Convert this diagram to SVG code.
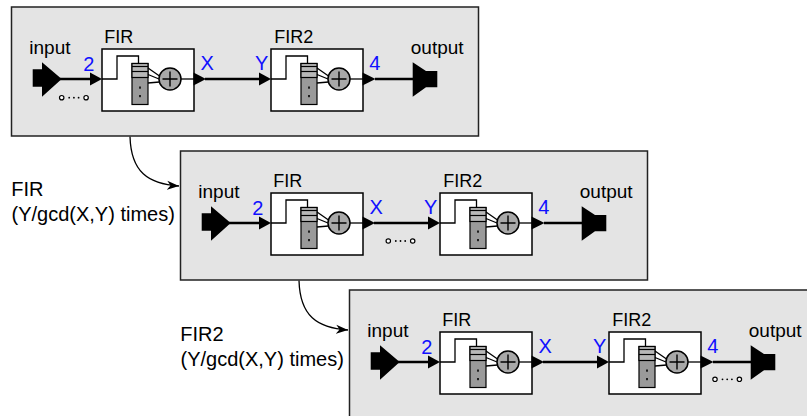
<svg xmlns="http://www.w3.org/2000/svg" xmlns:xlink="http://www.w3.org/1999/xlink" width="807" height="416" viewBox="0 0 807 416">
<style>
text{font-family:"Liberation Sans",Arial,Helvetica,sans-serif;fill:#000}
.lbl{font-size:18px}
.io{font-size:19px}
.num{font-size:20px;fill:#1010ff}
.side{font-size:20px}
.panel{fill:#e4e4e4;stroke:#222;stroke-width:1.5}
.box{fill:#fff;stroke:#000;stroke-width:1.5}
.wire{stroke:#000;stroke-width:2.5;fill:none}
.thin{stroke:#000;stroke-width:1.3;fill:none}
.blk{fill:#000}
.dot{fill:#fff;stroke:#000;stroke-width:1.2}
.curve{stroke:#000;stroke-width:1.3;fill:none}
</style>
<defs>
<marker id="arr" markerUnits="userSpaceOnUse" markerWidth="14" markerHeight="10" refX="12" refY="5" orient="auto">
<path d="M0,0.5 L12,5 L0,9.5 L3.5,5 Z" fill="#000"/>
</marker>
<g id="firIcon">
<path class="thin" d="M0,30 H15 V7 H36.5 V14.5"/>
<rect x="30" y="14.5" width="16" height="41" fill="#9a9a9a" stroke="#000" stroke-width="1.2"/>
<rect x="30" y="14.5" width="16" height="14" fill="#b8b8b8" stroke="#000" stroke-width="1.2"/>
<line x1="30" y1="17.5" x2="46" y2="17.5" stroke="#000" stroke-width="1.2"/>
<line x1="30" y1="22.5" x2="46" y2="22.5" stroke="#000" stroke-width="1.2"/>
<rect x="37.2" y="37.5" width="1.6" height="2.2" fill="#000"/>
<rect x="37.2" y="46" width="1.6" height="2.2" fill="#000"/>
<path class="thin" d="M46,19 L57.5,27 M46,25.5 L57,30 M46,34 L57.5,33"/>
<circle cx="68" cy="30" r="11" fill="#a8a8a8" stroke="#000" stroke-width="1.5"/>
<path d="M60.5,30 H75.5 M68,22.5 V37.5" stroke="#000" stroke-width="1.4"/>
<path class="thin" d="M79,30 H92"/>
</g>
<g id="dots">
<circle class="dot" cx="0" cy="0" r="2.2"/>
<circle cx="7.5" cy="0" r="0.9" fill="#000"/>
<circle cx="12.2" cy="0" r="0.9" fill="#000"/>
<circle cx="16.9" cy="0" r="0.9" fill="#000"/>
<circle class="dot" cx="24.4" cy="0" r="2.2"/>
</g>
</defs>

<g id="connectors">
<path class="curve" d="M130,136.5 C131,172 148,184 179,186" marker-end="url(#arr)"/>
<path class="curve" d="M299,280.5 C300,316 317,328 348,330" marker-end="url(#arr)"/>
</g>

<g id="side-label-1">
<text class="side" x="11.2" y="196">FIR</text>
<text class="side" x="11.5" y="221">(Y/gcd(X,Y) times)</text>
</g>
<g id="side-label-2">
<text class="side" x="180.2" y="341">FIR2</text>
<text class="side" x="180.5" y="366">(Y/gcd(X,Y) times)</text>
</g>

<g id="panel1" transform="translate(0,0)">
<rect class="panel" x="11.5" y="7" width="467" height="129"/>
<g id="p1-wires">
<path class="wire" d="M60,79 H91 M205,79 H260 M375,79 H414"/>
</g>
<g id="p1-input">
<text class="io" x="29.3" y="54">input</text>
<path class="blk" d="M32.7,69.3 H42 V62.3 L61.7,79 L42,96.7 V86.7 H32.7 Z"/>
<use xlink:href="#dots" x="61.7" y="97.7"/>
</g>
<g id="p1-fir">
<text class="lbl" x="104.3" y="43.3">FIR</text>
<rect class="box" x="102" y="49" width="92" height="62"/>
<use xlink:href="#firIcon" x="102" y="49"/>
<path class="blk" d="M90,72.5 L102,79 L90,85.5 Z"/>
<path class="blk" d="M193.5,72.5 L206,79 L193.5,85.5 Z"/>
<text class="num" x="83.2" y="70.7">2</text>
<text class="num" x="200.5" y="70">X</text>
</g>
<g id="p1-fir2">
<text class="lbl" x="274.3" y="43.3">FIR2</text>
<rect class="box" x="271" y="49" width="92" height="62"/>
<use xlink:href="#firIcon" x="271" y="49"/>
<path class="blk" d="M259,72.5 L271,79 L259,85.5 Z"/>
<path class="blk" d="M362.5,72.5 L375.5,79 L362.5,85.5 Z"/>
<text class="num" x="255" y="70">Y</text>
<text class="num" x="369.3" y="70">4</text>
</g>
<g id="p1-output">
<text class="io" x="410.8" y="54">output</text>
<path class="blk" d="M412.7,62.3 L426,71 H437.3 V87.3 H426 L412.7,96.7 Z"/>
</g>
</g>

<g id="panel2" transform="translate(169,144)">
<rect class="panel" x="11.5" y="7" width="467" height="129"/>
<g id="p2-wires">
<path class="wire" d="M60,79 H91 M205,79 H260 M375,79 H414"/>
</g>
<g id="p2-input">
<text class="io" x="29.3" y="54">input</text>
<path class="blk" d="M32.7,69.3 H42 V62.3 L61.7,79 L42,96.7 V86.7 H32.7 Z"/>
</g>
<g id="p2-fir">
<text class="lbl" x="104.3" y="43.3">FIR</text>
<rect class="box" x="102" y="49" width="92" height="62"/>
<use xlink:href="#firIcon" x="102" y="49"/>
<path class="blk" d="M90,72.5 L102,79 L90,85.5 Z"/>
<path class="blk" d="M193.5,72.5 L206,79 L193.5,85.5 Z"/>
<text class="num" x="83.2" y="70.7">2</text>
<text class="num" x="200.5" y="70">X</text>
<use xlink:href="#dots" x="219.3" y="97"/>
</g>
<g id="p2-fir2">
<text class="lbl" x="274.3" y="43.3">FIR2</text>
<rect class="box" x="271" y="49" width="92" height="62"/>
<use xlink:href="#firIcon" x="271" y="49"/>
<path class="blk" d="M259,72.5 L271,79 L259,85.5 Z"/>
<path class="blk" d="M362.5,72.5 L375.5,79 L362.5,85.5 Z"/>
<text class="num" x="255" y="70">Y</text>
<text class="num" x="369.3" y="70">4</text>
</g>
<g id="p2-output">
<text class="io" x="410.8" y="54">output</text>
<path class="blk" d="M412.7,62.3 L426,71 H437.3 V87.3 H426 L412.7,96.7 Z"/>
</g>
</g>

<g id="panel3" transform="translate(338,283)">
<rect class="panel" x="11.5" y="7" width="467" height="129"/>
<g id="p3-wires">
<path class="wire" d="M60,79 H91 M205,79 H260 M375,79 H414"/>
</g>
<g id="p3-input">
<text class="io" x="29.3" y="54">input</text>
<path class="blk" d="M32.7,69.3 H42 V62.3 L61.7,79 L42,96.7 V86.7 H32.7 Z"/>
</g>
<g id="p3-fir">
<text class="lbl" x="104.3" y="43.3">FIR</text>
<rect class="box" x="102" y="49" width="92" height="62"/>
<use xlink:href="#firIcon" x="102" y="49"/>
<path class="blk" d="M90,72.5 L102,79 L90,85.5 Z"/>
<path class="blk" d="M193.5,72.5 L206,79 L193.5,85.5 Z"/>
<text class="num" x="83.2" y="70.7">2</text>
<text class="num" x="200.5" y="70">X</text>
</g>
<g id="p3-fir2">
<text class="lbl" x="274.3" y="43.3">FIR2</text>
<rect class="box" x="271" y="49" width="92" height="62"/>
<use xlink:href="#firIcon" x="271" y="49"/>
<path class="blk" d="M259,72.5 L271,79 L259,85.5 Z"/>
<path class="blk" d="M362.5,72.5 L375.5,79 L362.5,85.5 Z"/>
<text class="num" x="255" y="70">Y</text>
<text class="num" x="369.3" y="70">4</text>
<use xlink:href="#dots" x="377" y="96.3"/>
</g>
<g id="p3-output">
<text class="io" x="410.8" y="54">output</text>
<path class="blk" d="M412.7,62.3 L426,71 H437.3 V87.3 H426 L412.7,96.7 Z"/>
</g>
</g>
</svg>
